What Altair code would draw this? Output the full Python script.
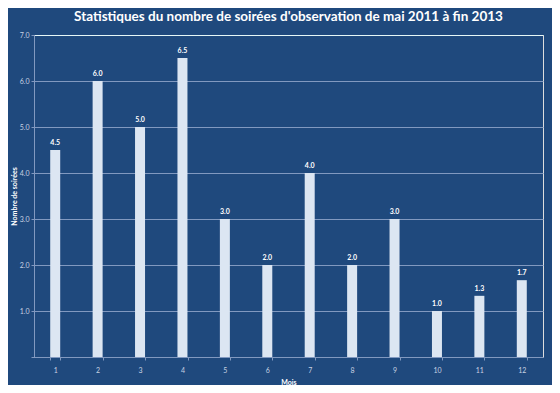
import altair as alt
import pandas as pd

months = ["1", "2", "3", "4", "5", "6", "7", "8", "9", "10", "11", "12"]
soirees = [4.5, 6.0, 5.0, 6.5, 3.0, 2.0, 4.0, 2.0, 3.0, 1.0, 1.33, 1.67]

df = pd.DataFrame({"Mois": months, "Soirees": soirees})

BG = "#1f497d"
BAR = "#dce6f2"
GRID = "#8199c0"

x = alt.X("Mois:N", sort=months, title="Mois",
          scale=alt.Scale(paddingInner=0.76, paddingOuter=0.38),
          axis=alt.Axis(labelAngle=0, tickBand="extent", tickSize=3,
                        tickColor=GRID, domainColor=GRID, labelColor="#c8d2e2",
                        labelFontSize=7, labelPadding=6, titleFontSize=7,
                        titleFontWeight="bold", titleColor="white", titlePadding=5))

bars = alt.Chart(df).mark_bar(color=BAR, size=10).encode(
    x=x,
    y=alt.Y("Soirees:Q", title="Nombre de soirées",
            scale=alt.Scale(domain=[0, 7], nice=False),
            axis=alt.Axis(values=[0, 1, 2, 3, 4, 5, 6, 7],
                          labelExpr="datum.value == 0 ? '' : format(datum.value, '.1f')",
                          gridColor=alt.condition("datum.value == 7", alt.value("#e6f7f7"), alt.value(GRID)),
                          gridWidth=1,
                          tickColor=GRID, tickSize=3, domainColor=GRID,
                          labelColor="#c8d2e2", labelFontSize=7, labelPadding=2,
                          titleFontSize=7, titleFontWeight="bold", titleColor="white",
                          titlePadding=2)),
)

labels = alt.Chart(df).mark_text(dy=-7, color="white", fontSize=7, fontWeight="bold").encode(
    x=alt.X("Mois:N", sort=months),
    y="Soirees:Q",
    text=alt.Text("Soirees:Q", format=".1f"),
)

chart = (bars + labels).properties(
    width=509,
    height=322,
    background=BG,
    autosize=alt.AutoSizeParams(type="none"),
    padding={"left": 26, "top": 27, "right": 9, "bottom": 28},
    title=alt.Title("Statistiques du nombre de soirées d'observation de mai 2011 à fin 2013",
                    color="white", fontSize=13.5, fontWeight="bold", font="Lato",
                    anchor="middle", frame="group", offset=8),
).configure_view(stroke="#e6f7f7", strokeWidth=1.5).configure(font="Lato")

chart.save("out.html", embed_options={"renderer": "svg", "actions": False})
